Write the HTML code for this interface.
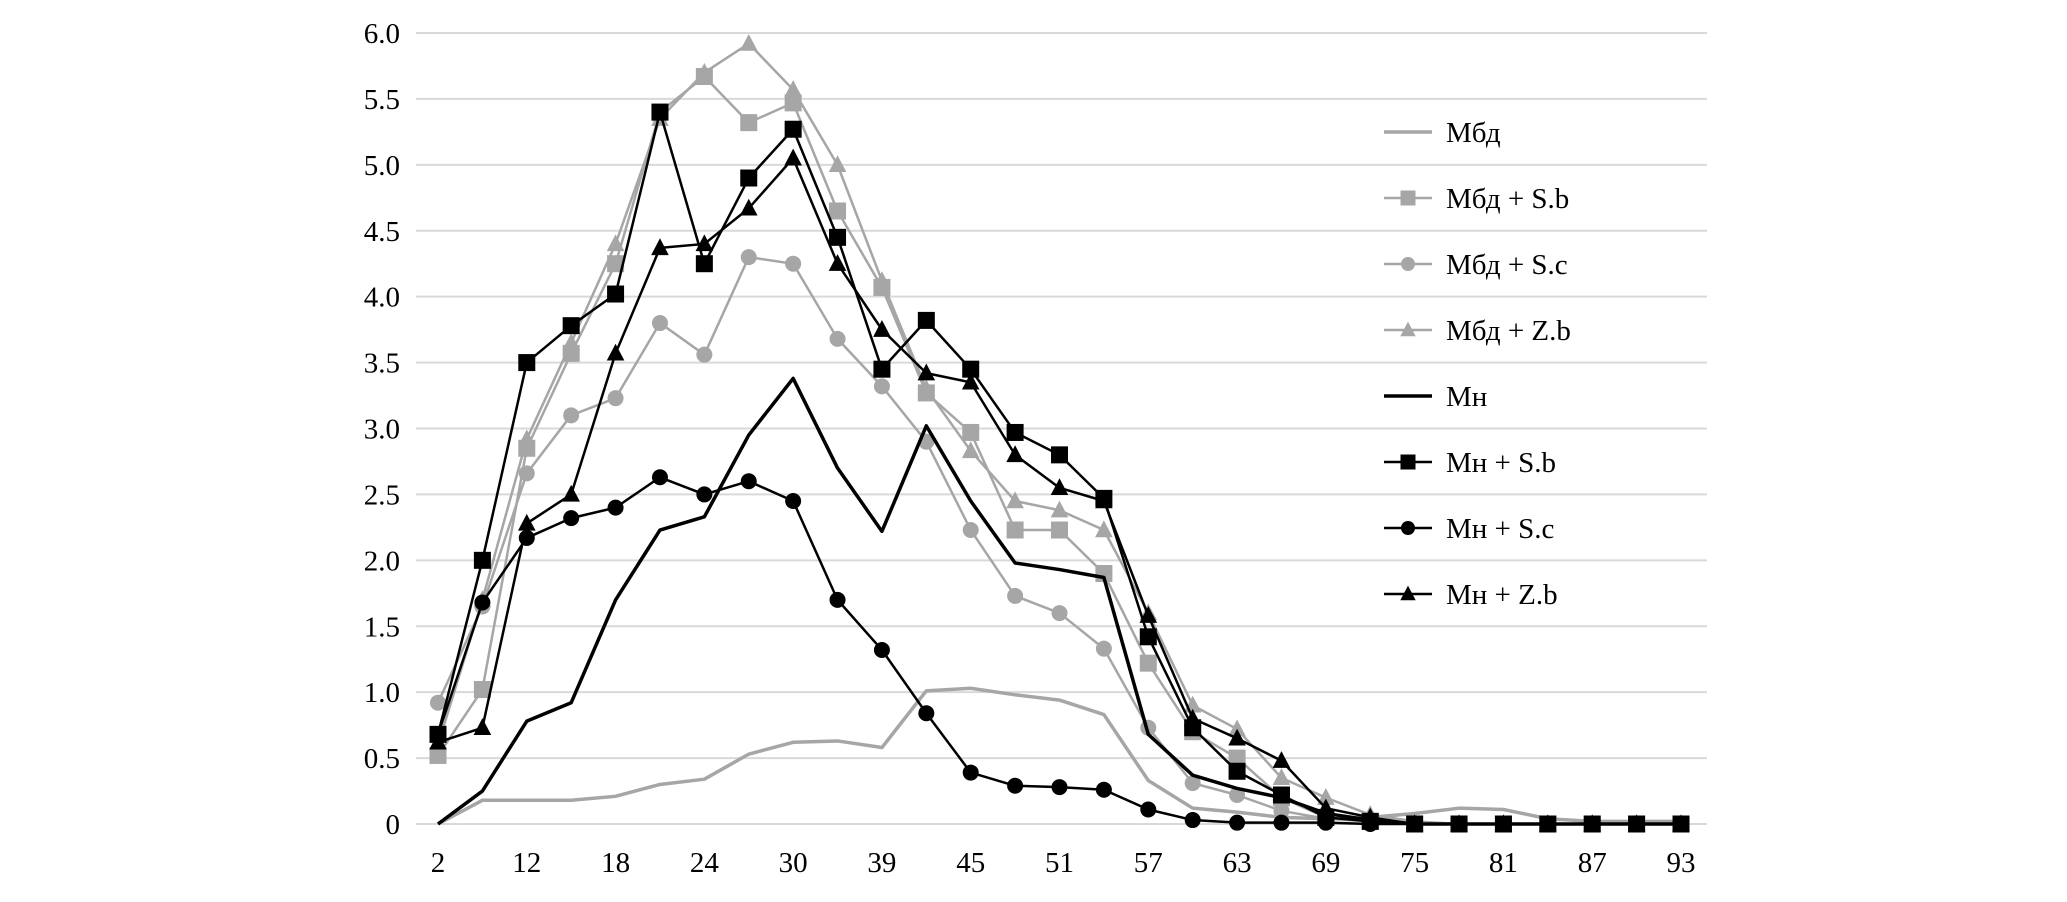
<!DOCTYPE html>
<html><head><meta charset="utf-8"><style>
html,body{margin:0;padding:0;background:#fff;width:2067px;height:902px;overflow:hidden}
svg{display:block;font-family:"Liberation Serif",serif}
</style></head><body>
<svg id="chart" width="2067" height="902" viewBox="0 0 2067 902" xmlns="http://www.w3.org/2000/svg">
<g id="grid"></g>
<g id="yaxis"></g>
<g id="xaxis"></g>
<g id="series"></g>
<g id="legend"></g>
</svg>
<script>
const categories=[2,7,12,15,18,21,24,27,30,33,39,42,45,48,51,54,57,60,63,66,69,72,75,78,81,84,87,90,93];
const xTickLabels=["2","12","18","24","30","39","45","51","57","63","69","75","81","87","93"];
const yTicks=[0,0.5,1,1.5,2,2.5,3,3.5,4,4.5,5,5.5,6];
const yTickLabels=["0","0.5","1.0","1.5","2.0","2.5","3.0","3.5","4.0","4.5","5.0","5.5","6.0"];
const seriesNames=["Мбд","Мбд + S.b","Мбд + S.c","Мбд + Z.b","Мн","Мн + S.b","Мн + S.c","Мн + Z.b"];
const mbd=[0,0.18,0.18,0.18,0.21,0.3,0.34,0.53,0.62,0.63,0.58,1.01,1.03,0.98,0.94,0.83,0.33,0.12,0.09,0.05,0.04,0.05,0.08,0.12,0.11,0.04,0.02,0.02,0.02];
const mbdSb=[0.52,1.02,2.85,3.57,4.25,5.4,5.67,5.32,5.47,4.65,4.07,3.27,2.97,2.23,2.23,1.9,1.22,0.7,0.5,0.2,0.05,0.02,0,0,0,0,0,0,0];
const mbdSc=[0.92,1.65,2.66,3.1,3.23,3.8,3.56,4.3,4.25,3.68,3.32,2.9,2.23,1.73,1.6,1.33,0.73,0.31,0.22,0.1,0.04,0.02,0,0,0,0,0,0,0];
const mbdZb=[0.6,1.7,2.92,3.65,4.4,5.35,5.7,5.92,5.57,5.0,4.12,3.3,2.83,2.45,2.38,2.23,1.6,0.9,0.72,0.35,0.2,0.07,0.02,0,0,0,0,0,0];
const mn=[0,0.25,0.78,0.92,1.7,2.23,2.33,2.95,3.38,2.7,2.22,3.02,2.45,1.98,1.93,1.87,0.68,0.37,0.27,0.2,0.08,0.03,0,0,0,0,0,0,0];
const mnSb=[0.68,2.0,3.5,3.78,4.02,5.4,4.25,4.9,5.27,4.45,3.45,3.82,3.45,2.97,2.8,2.47,1.42,0.73,0.4,0.22,0.05,0.02,0,0,0,0,0,0,0];
const mnSc=[0.68,1.68,2.17,2.32,2.4,2.63,2.5,2.6,2.45,1.7,1.32,0.84,0.39,0.29,0.28,0.26,0.11,0.03,0.01,0.01,0.01,0,0,0,0,0,0,0,0];
const mnZb=[0.62,0.73,2.28,2.5,3.57,4.37,4.4,4.67,5.05,4.25,3.75,3.42,3.35,2.8,2.55,2.45,1.58,0.8,0.65,0.48,0.12,0.05,0,0,0,0,0,0,0];

const NS="http://www.w3.org/2000/svg";
const X0=438,X1=1681,Y0=824,Y6=33,GL=416,GR=1707;
function xs(i){return X0+i*(X1-X0)/(categories.length-1);}
function ys(v){return Y0-(v/6)*(Y0-Y6);}
function mk(tag,attrs,parent){const e=document.createElementNS(NS,tag);for(const k in attrs)e.setAttribute(k,attrs[k]);parent.appendChild(e);return e;}

const grid=document.getElementById('grid'),yax=document.getElementById('yaxis'),xax=document.getElementById('xaxis'),ser=document.getElementById('series'),leg=document.getElementById('legend');
yTicks.forEach((t,i)=>{
  const l=mk('line',{x1:GL,x2:GR,y1:ys(t),y2:ys(t),stroke:'#d9d9d9','stroke-width':2},grid);
  
  
  const tx=mk('text',{x:400,y:ys(t)+10,'text-anchor':'end','font-size':29,fill:'#000'},yax);
  tx.textContent=yTickLabels[i];
  
  
});
xTickLabels.forEach((lab,j)=>{
  const tx=mk('text',{x:xs(j*2),y:872,'text-anchor':'middle','font-size':29,fill:'#000'},xax);
  tx.textContent=lab;
  
  
});
const G='#a6a6a6',B='#000';
const defs=[[mbd,G,null],[mbdSb,G,'square'],[mbdSc,G,'circle'],[mbdZb,G,'triangle'],[mn,B,null],[mnSb,B,'square'],[mnSc,B,'circle'],[mnZb,B,'triangle']];
function marker(type,x,y,col,parent,s){
  let e;
  if(type==='square')e=mk('rect',{x:x-s/2,y:y-s/2,width:s,height:s,fill:col},parent);
  else if(type==='circle')e=mk('circle',{cx:x,cy:y,r:s/2,fill:col},parent);
  else e=mk('polygon',{points:`${x},${y-s*0.6} ${x-s*0.55},${y+s*0.45} ${x+s*0.55},${y+s*0.45}`,fill:col},parent);
  return e;
}
defs.forEach((d,k)=>{
  const [vals,col,m]=d;
  const g=mk('g',{},ser);
  
  
  const pts=vals.map((v,i)=>xs(i)+','+ys(v)).join(' ');
  const pl=mk('polyline',{points:pts,fill:'none',stroke:col,'stroke-width':m?2.5:3.5,'stroke-linejoin':'round'},g);
  
  
  if(m)vals.forEach((v,i)=>{
    const e=marker(m,xs(i),ys(v),col,g,m==='square'?17:16);
    
    
  });
  const ly=132+k*66;
  const lg=mk('g',{},leg);
  
  
  mk('line',{x1:1384,x2:1432,y1:ly,y2:ly,stroke:col,'stroke-width':m?2.5:3.5},lg);
  if(m)marker(m,1408,ly,col,lg,m==='square'?15:14);
  const t=mk('text',{x:1446,y:ly+10,'font-size':29,fill:'#000'},lg);
  t.textContent=seriesNames[k];
});
</script>
</body></html>
